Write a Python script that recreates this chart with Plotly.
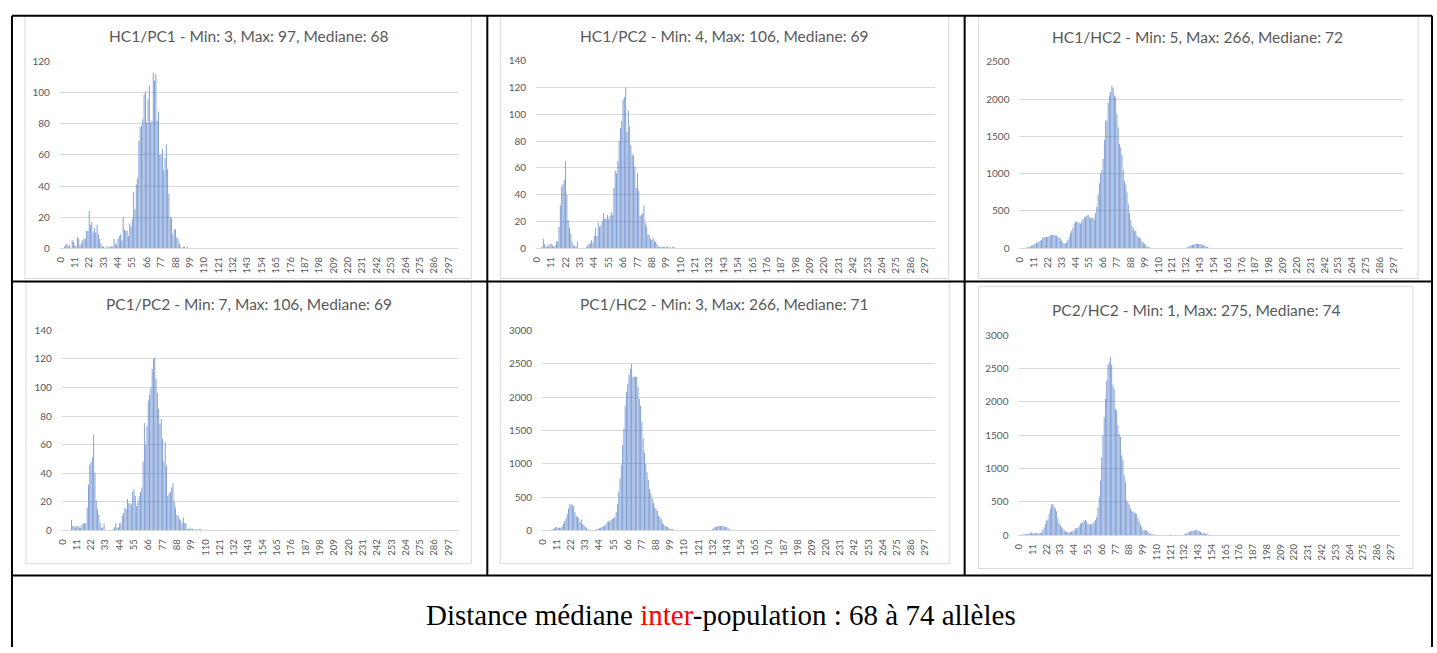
import numpy as np
import plotly.graph_objects as go

# Distance classes (number of differing alleles) shown on every histogram
N_CLASSES = 305
DISTANCES = list(range(N_CLASSES))
TICK_VALUES = list(range(0, 298, 11))

# Pair counts per distance; each panel stores {first distance: [consecutive counts]}
HC1_PC1 = {
    3: [1, 2, 3, 1, 2, 0, 5, 4, 2, 1, 7, 6, 2, 3, 5, 6, 6, 11, 11, 24, 15, 17, 10, 13,
        10, 15, 9, 6, 3, 1, 1, 0, 1, 0, 1, 1, 1, 1, 6, 3, 2, 6, 8, 9, 5, 20, 12, 11, 11,
        8, 16, 14, 19, 36, 25, 41, 45, 69, 78, 79, 83, 99, 101, 81, 96, 105, 81, 82,
        113, 108, 112, 82, 88, 60, 60, 64, 50, 58, 67, 51, 35, 20, 19, 9, 12, 12, 7, 6,
        3, 1, 0, 1, 1, 0, 1],
}
HC1_PC2 = {
    4: [1, 7, 3, 1, 2, 1, 3, 3, 2, 1, 2, 5, 5, 16, 32, 46, 48, 51, 65, 40, 21, 15, 11,
        5, 2, 2, 1, 5],
    38: [1, 2, 3, 4, 6, 4, 9, 15, 9, 19, 16, 17, 20, 26, 22, 22, 25, 22, 24, 27, 25,
         45, 58, 56, 65, 80, 90, 95, 111, 113, 120, 87, 103, 91, 77, 70, 69, 61, 45,
         56, 43, 24, 25, 26, 32, 19, 16, 10, 10, 7, 6, 8, 5, 5, 3, 1, 1, 1, 1, 1, 1,
         1, 1, 0, 1, 0, 1, 1],
}
HC1_HC2 = {
    5: [5, 10, 15, 25, 30, 40, 50, 60, 70, 80, 90, 100, 110, 140, 150, 145, 150, 150,
        160, 170, 175, 180, 175, 170, 165, 150, 140, 130, 100, 80, 60, 65, 80, 110, 150,
        200, 230, 270, 330, 350, 360, 345, 340, 330, 360, 390, 410, 420, 430, 450, 420,
        400, 405, 410, 380, 470, 560, 720, 870, 1000, 1050, 1200, 1450, 1700, 1720,
        1950, 2050, 2100, 2180, 2150, 2050, 2030, 1800, 1620, 1400, 1350, 1250, 1050,
        900, 850, 750, 600, 470, 380, 300, 260, 230, 230, 170, 150, 140, 130, 90, 70,
        60, 40, 20, 12, 8, 5, 3, 2, 1, 1],
    133: [10, 20, 30, 40, 45, 50, 55, 55, 55, 55, 52, 50, 45, 40, 30, 20, 15, 5, 2],
    266: [1],
}
PC1_PC2 = {
    7: [7, 3, 3, 2, 3, 3, 2, 2, 4, 5, 5, 5, 16, 32, 46, 48, 51, 67, 40, 21, 15, 11, 5,
        2, 2, 5],
    39: [1, 2, 5, 2, 2, 5, 5, 10, 12, 16, 15, 22, 19, 19, 18, 27, 29, 24, 17, 20, 24,
         27, 30, 48, 75, 60, 73, 91, 95, 100, 113, 120, 121, 106, 96, 85, 75, 78, 64,
         48, 62, 45, 24, 26, 27, 30, 33, 20, 16, 11, 10, 8, 7, 5, 9, 5, 5, 1, 1, 2, 1,
         1, 1, 0, 1, 0, 1, 1],
}
PC1_HC2 = {
    3: [2, 3, 5, 8, 10, 20, 30, 50, 45, 40, 40, 40, 60, 100, 140, 180, 250, 330, 400,
        390, 380, 360, 270, 220, 200, 180, 120, 160, 100, 80, 50, 40, 15, 8, 5, 3, 3, 5,
        10, 15, 20, 30, 40, 50, 60, 70, 90, 120, 130, 140, 160, 170, 180, 200, 270, 400,
        580, 780, 980, 1280, 1530, 1870, 2080, 2200, 2330, 2420, 2500, 2300, 2310, 2310,
        2300, 2150, 1970, 1870, 1620, 1380, 1170, 1000, 870, 760, 620, 560, 480, 420,
        350, 320, 290, 220, 200, 170, 110, 80, 70, 60, 50, 40, 20, 15, 20, 5, 3, 2, 1],
    130: [5, 10, 20, 40, 50, 55, 60, 65, 65, 65, 62, 60, 50, 45, 30, 15, 10, 3],
    266: [1],
}
PC2_HC2 = {
    1: [5, 10, 10, 15, 15, 20, 20, 25, 30, 40, 35, 30, 30, 30, 30, 30, 35, 40, 80, 120,
        170, 220, 240, 320, 400, 460, 470, 430, 400, 360, 250, 180, 150, 120, 100, 80,
        60, 50, 40, 45, 50, 55, 60, 80, 100, 105, 110, 140, 170, 190, 200, 220, 230, 210,
        160, 170, 160, 170, 180, 200, 230, 270, 420, 580, 820, 1170, 1500, 1770, 2050,
        2320, 2560, 2600, 2680, 2560, 2260, 2200, 1900, 1870, 1650, 1520, 1480, 1200,
        1140, 900, 800, 520, 500, 460, 400, 370, 350, 340, 330, 320, 260, 200, 160, 120,
        80, 70, 80, 70, 60, 30, 20, 15, 10, 10, 8, 5, 3, 2],
    121: [10],
    132: [10, 20, 30, 40, 50, 60, 65, 70, 72, 75, 75, 70, 60, 50, 40, 35, 30, 25, 20, 15,
          5, 2],
    275: [1],
}

TITLES = [
    "HC1/PC1 - Min: 3, Max: 97, Mediane: 68",
    "HC1/PC2 - Min: 4, Max: 106, Mediane: 69",
    "HC1/HC2 - Min: 5, Max: 266, Mediane: 72",
    "PC1/PC2 - Min: 7, Max: 106, Mediane: 69",
    "PC1/HC2 - Min: 3, Max: 266, Mediane: 71",
    "PC2/HC2 - Min: 1, Max: 275, Mediane: 74",
]
SERIES = [HC1_PC1, HC1_PC2, HC1_HC2, PC1_PC2, PC1_HC2, PC2_HC2]
Y_MAX = [120, 140, 2500, 140, 3000, 3000]
Y_STEP = [20, 20, 500, 20, 500, 500]

W, H = 1437, 653

# Pixel layout of each chart: plot area (x0, x1, ytop, ybottom), chart frame, title centre
PLOT_BOX = [
    (55, 455, 56, 246), (533, 933, 55, 246), (1018, 1403, 56, 246),
    (57, 455, 330, 534), (539, 933, 330, 534), (1017, 1400, 335, 539),
]
FRAME_BOX = [
    (20, 468, 9, 277), (497, 947, 9, 277), (977, 1418, 9, 277),
    (21, 468, 281, 568), (497, 948, 281, 568), (977, 1413, 285, 573),
]
TITLE_POS = [(244, 30), (722, 30), (1197, 31), (245, 303), (722, 303), (1195, 309)]

BAR_COLOR = "rgba(68,114,196,0.72)"
TEXT_GREY = "#595959"
FONT = "Lato"


def px(x):
    return x / W


def py(y):
    return 1 - y / H


def expand(segments):
    counts = np.zeros(N_CLASSES)
    for start, vals in segments.items():
        counts[start:start + len(vals)] = vals
    return counts


fig = go.Figure()
layout = {}
for i, (series, ymax, ystep, box) in enumerate(zip(SERIES, Y_MAX, Y_STEP, PLOT_BOX), start=1):
    suffix = "" if i == 1 else str(i)
    fig.add_trace(go.Bar(
        x=DISTANCES, y=expand(series),
        xaxis="x" + suffix, yaxis="y" + suffix,
        marker=dict(color=BAR_COLOR, line=dict(width=0)),
        showlegend=False, hoverinfo="skip",
    ))
    x0, x1, yt, yb = box
    layout["xaxis" + suffix] = dict(
        domain=[px(x0), px(x1)], anchor="y" + suffix,
        range=[-0.5, N_CLASSES - 0.5],
        tickmode="array", tickvals=TICK_VALUES,
        ticktext=[str(t) for t in TICK_VALUES],
        tickangle=-90, ticks="", ticklabelstandoff=4,
        tickfont=dict(family=FONT, size=9.5, color=TEXT_GREY),
        showgrid=False, zeroline=False, showline=True,
        linecolor="#d9d9d9", linewidth=1, fixedrange=True,
    )
    layout["yaxis" + suffix] = dict(
        domain=[py(yb), py(yt)], anchor="x" + suffix,
        range=[0, ymax], dtick=ystep, tick0=0,
        ticks="", ticklabelstandoff=9,
        tickfont=dict(family=FONT, size=10, color=TEXT_GREY),
        showgrid=True, gridcolor="#d9d9d9", gridwidth=1,
        zeroline=False, showline=False, fixedrange=True,
    )

shapes = []
# Light grey frame around every chart
for x0, x1, y0, y1 in FRAME_BOX:
    shapes.append(dict(type="rect", xref="paper", yref="paper",
                       x0=px(x0), x1=px(x1), y0=py(y1), y1=py(y0),
                       line=dict(color="#d9d9d9", width=1), layer="below"))


# Black table rules
def rule(xa, ya, xb, yb):
    shapes.append(dict(type="line", xref="paper", yref="paper",
                       x0=px(xa), y0=py(ya), x1=px(xb), y1=py(yb),
                       line=dict(color="black", width=2)))


rule(7, 9, 1432, 9)
rule(7, 280, 1432, 280)
rule(7, 580, 1432, 580)
rule(7, 9, 7, 653)
rule(1432, 9, 1432, 653)
rule(484, 9, 484, 580)
rule(963, 9, 963, 580)

annotations = []
for title, (cx, cy) in zip(TITLES, TITLE_POS):
    annotations.append(dict(text=title, xref="paper", yref="paper",
                            x=px(cx), y=py(cy), xanchor="center", yanchor="middle",
                            showarrow=False,
                            font=dict(family=FONT, size=15.5, color=TEXT_GREY)))

annotations.append(dict(
    text='Distance médiane <span style="color:#ff0000">inter</span>-population : 68 à 74 allèles',
    xref="paper", yref="paper", x=px(719), y=py(620),
    xanchor="center", yanchor="middle", showarrow=False,
    font=dict(family="Liberation Serif", size=29, color="black"),
))

fig.update_layout(
    width=W, height=H, autosize=False,
    margin=dict(l=0, r=0, t=0, b=0),
    paper_bgcolor="white", plot_bgcolor="white",
    bargap=0.3, shapes=shapes, annotations=annotations,
    **layout,
)

fig.write_html("out.html")
